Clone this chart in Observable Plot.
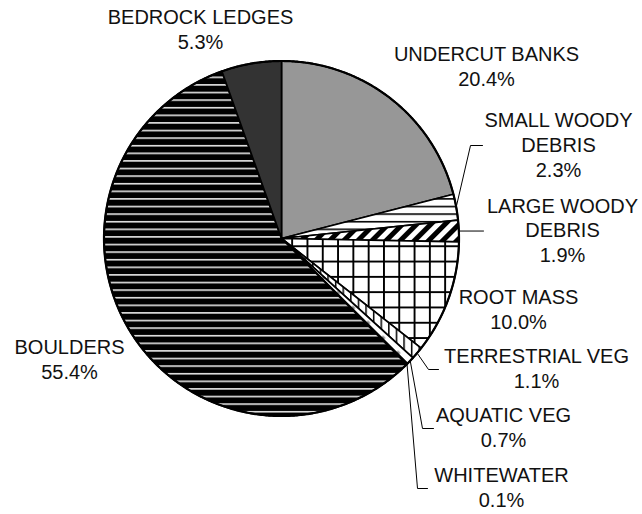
<!DOCTYPE html>
<html><head><meta charset="utf-8">
<script src="https://cdn.jsdelivr.net/npm/d3@7"></script>
<script src="https://cdn.jsdelivr.net/npm/@observablehq/plot@0.6"></script>
<style>body{margin:0;background:#fff} #chart{width:642px;height:514px}</style>
</head><body><div id="chart"></div>
<script>
// ---- data ----
const categories = ["UNDERCUT BANKS","SMALL WOODY DEBRIS","LARGE WOODY DEBRIS","ROOT MASS","TERRESTRIAL VEG","AQUATIC VEG","WHITEWATER","BOULDERS","BEDROCK LEDGES"];
const values = [20.4, 2.3, 1.9, 10.0, 1.1, 0.7, 0.1, 55.4, 5.3];
const labelNames = ["UNDERCUT BANKS","SMALL WOODY\nDEBRIS","LARGE WOODY\nDEBRIS","ROOT MASS","TERRESTRIAL VEG","AQUATIC VEG","WHITEWATER","BOULDERS","BEDROCK LEDGES"];
const patternIds = ["p-undercut","p-small","p-large","p-root","p-terr","p-aqua","p-white","p-boulder","p-bedrock"];

// ---- layout ----
const pie = {cx: 281, cy: 238, r: 177.5};
const labelPos = [[486,85],[558,176],[562,261.7],[518,328.3],[536,387.3],[503,446.7],[501,506.7],[69,378.3],[200,48]];
const leaderBends = {1: [[470,145],[482,145]], 2: [[483,null]], 4: [[428,369],[438,369]], 5: [[422,428],[433,428]], 6: [[417,488],[427,488]]};

const arcs = d3.pie().sort(null).value(d => d)(values);
const pt = a => [pie.cx + pie.r * Math.sin(a), pie.cy - pie.r * Math.cos(a)];

const slicePoints = [];
arcs.forEach((arc, i) => {
  const cat = categories[i];
  slicePoints.push({cat, x: pie.cx, y: pie.cy});
  const n = Math.max(2, Math.ceil((arc.endAngle - arc.startAngle) / 0.005));
  for (let k = 0; k <= n; k++) {
    const a = arc.startAngle + (arc.endAngle - arc.startAngle) * k / n;
    const [x, y] = pt(a);
    slicePoints.push({cat, x, y});
  }
  slicePoints.push({cat, x: pie.cx, y: pie.cy});
});

const circlePoints = d3.range(0, 721).map(k => { const [x, y] = pt(k / 720 * 2 * Math.PI); return {x, y}; });

const leaderPoints = [];
Object.entries(leaderBends).forEach(([i, bends]) => {
  const arc = arcs[+i];
  const [x0, y0] = pt((arc.startAngle + arc.endAngle) / 2);
  leaderPoints.push({cat: categories[i], x: x0, y: y0});
  bends.forEach(([x, y]) => leaderPoints.push({cat: categories[i], x, y: y == null ? y0 : y}));
});

const labels = categories.map((c, i) => ({
  cat: c, x: labelPos[i][0], y: labelPos[i][1],
  text: labelNames[i] + "\n" + values[i].toFixed(1) + "%"
}));

const svg = Plot.plot({
  width: 642, height: 514, margin: 0,
  x: {domain: [0, 642], range: [0, 642], axis: null},
  y: {domain: [0, 514], range: [0, 514], axis: null},
  color: {domain: categories, range: patternIds.map(id => `url(#${id})`)},
  style: {background: "#fff"},
  marks: [
    Plot.line(slicePoints, {x: "x", y: "y", z: "cat", fill: "cat", stroke: "#000", strokeWidth: 1.7, strokeLinejoin: "round", curve: "linear"}),
    Plot.line(circlePoints, {x: "x", y: "y", stroke: "#000", strokeWidth: 2.2}),
    Plot.line(leaderPoints, {x: "x", y: "y", z: "cat", stroke: "#000", strokeWidth: 1}),
    Plot.text(labels, {x: "x", y: "y", text: "text", lineAnchor: "bottom", lineHeight: 1.24, fontSize: 20, fontFamily: "Liberation Sans, Arial, sans-serif", fill: "#111"})
  ]
});

// ---- fill patterns ----
const defs = d3.select(svg).insert("defs", ":first-child");
function pattern(id, w, h, transform) {
  const p = defs.append("pattern").attr("id", id).attr("patternUnits", "userSpaceOnUse").attr("width", w).attr("height", h);
  if (transform) p.attr("patternTransform", transform);
  return p;
}
let p;
p = pattern("p-undercut", 2, 2);
p.append("rect").attr("width", 2).attr("height", 2).attr("fill", "#c4c4c4");
p.append("rect").attr("width", 1).attr("height", 1).attr("fill", "#6a6a6a");
p.append("rect").attr("x", 1).attr("y", 1).attr("width", 1).attr("height", 1).attr("fill", "#6a6a6a");

p = pattern("p-small", 8, 7.6);
p.append("rect").attr("width", 8).attr("height", 7.6).attr("fill", "#fff");
p.append("rect").attr("width", 8).attr("height", 1.6).attr("fill", "#000");

p = pattern("p-large", 10, 10, "rotate(45)");
p.append("rect").attr("width", 10).attr("height", 10).attr("fill", "#fff");
p.append("rect").attr("width", 5).attr("height", 10).attr("fill", "#000");

p = pattern("p-root", 15.3, 15.3);
p.append("rect").attr("width", 15.3).attr("height", 15.3).attr("fill", "#fff");
p.append("rect").attr("width", 1.9).attr("height", 15.3).attr("fill", "#000");
p.append("rect").attr("width", 15.3).attr("height", 1.9).attr("fill", "#000");

p = pattern("p-terr", 7.6, 8);
p.append("rect").attr("width", 7.6).attr("height", 8).attr("fill", "#fff");
p.append("rect").attr("width", 1.5).attr("height", 8).attr("fill", "#000");

p = pattern("p-aqua", 15, 15);
p.append("rect").attr("width", 15).attr("height", 15).attr("fill", "#fff");
p.append("polygon").attr("points", "7.5,5 10,7.5 7.5,10 5,7.5").attr("fill", "#888");

p = pattern("p-white", 4, 4);
p.append("rect").attr("width", 4).attr("height", 4).attr("fill", "#fff");

p = pattern("p-boulder", 8, 7.6);
p.append("rect").attr("width", 8).attr("height", 7.6).attr("fill", "#000");
p.append("rect").attr("width", 8).attr("height", 1.6).attr("fill", "#e6e6e6");

p = pattern("p-bedrock", 4, 4);
p.append("rect").attr("width", 4).attr("height", 4).attr("fill", "#333");

document.getElementById("chart").appendChild(svg);
</script>
</body></html>
